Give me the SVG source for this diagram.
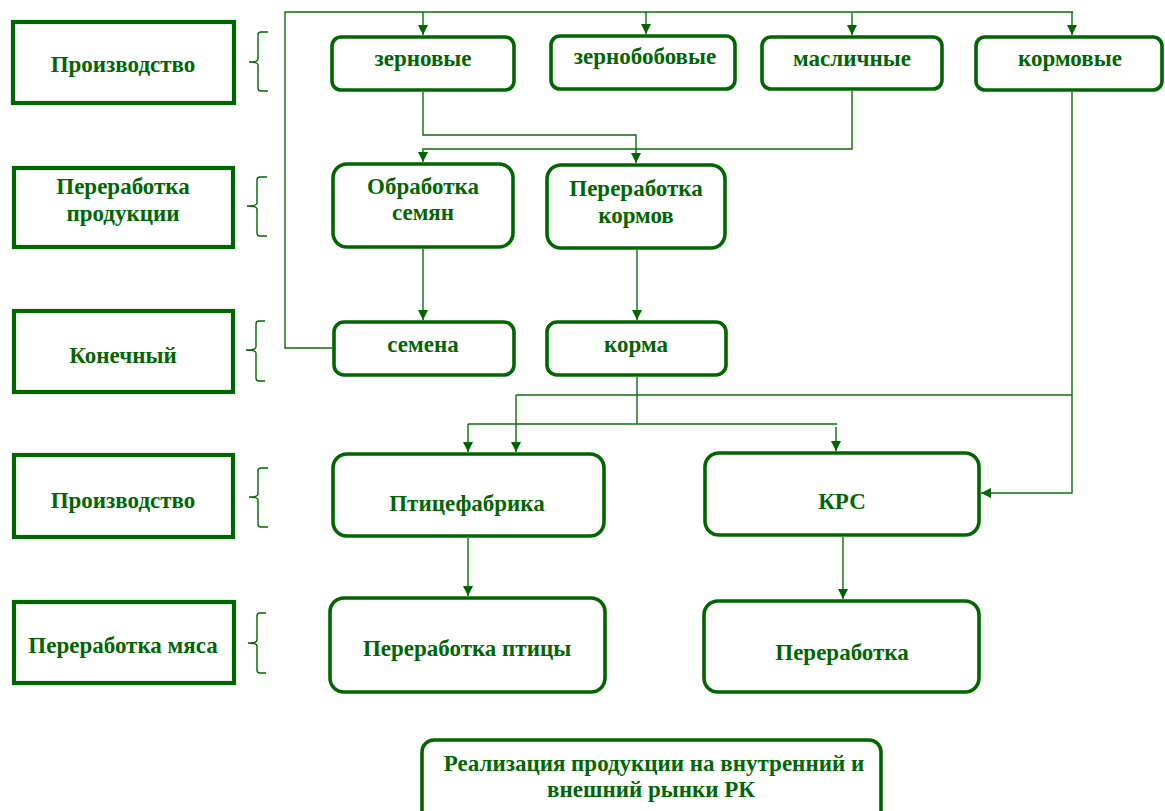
<svg xmlns="http://www.w3.org/2000/svg" width="1165" height="811" viewBox="0 0 1165 811">
<defs>
<style>
.lbox{fill:#fff;stroke:#006600;stroke-width:4.2}
.nbox{fill:#fff;stroke:#006600;stroke-width:3.6}
.t{font-family:"Liberation Serif","Times New Roman",serif;font-weight:bold;font-size:23px;fill:#006600;text-anchor:middle}
.c{fill:none;stroke:#0b6e0b;stroke-width:1.4}
.br{fill:none;stroke:#006600;stroke-width:1.4}
</style>
<marker id="ah" viewBox="0 0 10 10" refX="10" refY="5" markerWidth="10" markerHeight="10" markerUnits="userSpaceOnUse" orient="auto">
<path d="M0,0 L10,5 L0,10 z" fill="#006600"/>
</marker>
</defs>
<rect width="1165" height="811" fill="#fff"/>

<g id="level-labels">
<g id="lvl1"><rect class="lbox" x="13" y="22" width="221" height="81"/><text class="t" x="123" y="72">Производство</text></g>
<g id="lvl2"><rect class="lbox" x="14" y="168" width="219" height="79"/><text class="t" x="123" y="194">Переработка</text><text class="t" x="123" y="221">продукции</text></g>
<g id="lvl3"><rect class="lbox" x="14" y="311" width="219" height="81"/><text class="t" x="123" y="363">Конечный</text></g>
<g id="lvl4"><rect class="lbox" x="14" y="455" width="219" height="82"/><text class="t" x="123" y="508">Производство</text></g>
<g id="lvl5"><rect class="lbox" x="14" y="602" width="220" height="81"/><text class="t" x="123" y="653">Переработка мяса</text></g>
</g>

<g id="brackets">
<path class="br" d="M268,32 H261 Q258,32 258,35 V59 Q258,62 249,62 Q258,62 258,65 V88 Q258,91 261,91 H268"/>
<path class="br" d="M267,177 H260 Q257,177 257,180 V203 Q257,206 247,206 Q257,206 257,209 V233 Q257,236 260,236 H267"/>
<path class="br" d="M265,321 H259 Q256,321 256,324 V347 Q256,350 246,350 Q256,350 256,353 V378 Q256,381 259,381 H265"/>
<path class="br" d="M268,468 H261 Q258,468 258,471 V494 Q258,497 249,497 Q258,497 258,500 V524 Q258,527 261,527 H268"/>
<path class="br" d="M266,613 H260 Q257,613 257,616 V640 Q257,643 248,643 Q257,643 257,646 V670 Q257,673 260,673 H266"/>
</g>

<g id="connectors">
<path class="c" d="M332,348 H285 V12 H1073"/>
<path class="c" d="M423,12 V35" marker-end="url(#ah)"/>
<path class="c" d="M646,12 V34" marker-end="url(#ah)"/>
<path class="c" d="M852,13 V35" marker-end="url(#ah)"/>
<path class="c" d="M1072,12 V35" marker-end="url(#ah)"/>
<path class="c" d="M423,92 V135 H636 V163" marker-end="url(#ah)"/>
<path class="c" d="M852,91 V149 H423 V162" marker-end="url(#ah)"/>
<path class="c" d="M423,249 V320" marker-end="url(#ah)"/>
<path class="c" d="M637,250 V320" marker-end="url(#ah)"/>
<path class="c" d="M637,377 V424"/>
<path class="c" d="M468,424 H837"/>
<path class="c" d="M468,424 V452" marker-end="url(#ah)"/>
<path class="c" d="M836,427 V451" marker-end="url(#ah)"/>
<path class="c" d="M516,395 H1072"/>
<path class="c" d="M516,395 V452" marker-end="url(#ah)"/>
<path class="c" d="M1072,92 V493 H981" marker-end="url(#ah)"/>
<path class="c" d="M468,538 V596" marker-end="url(#ah)"/>
<path class="c" d="M843,537 V599" marker-end="url(#ah)"/>
</g>

<g id="n-zernovye"><rect class="nbox" x="332" y="37" width="182" height="53" rx="9"/><text class="t" x="423" y="66">зерновые</text></g>
<g id="n-zernobobovye"><rect class="nbox" x="551" y="36" width="184" height="53" rx="9"/><text class="t" x="645" y="64">зернобобовые</text></g>
<g id="n-maslichnye"><rect class="nbox" x="762" y="37" width="180" height="52" rx="9"/><text class="t" x="852" y="66">масличные</text></g>
<g id="n-kormovye"><rect class="nbox" x="976" y="37" width="186" height="53" rx="9"/><text class="t" x="1070" y="66">кормовые</text></g>

<g id="n-obrabotka"><rect class="nbox" x="333" y="164" width="180" height="83" rx="14"/><text class="t" x="423" y="194">Обработка</text><text class="t" x="423" y="220">семян</text></g>
<g id="n-pererabotka-kormov"><rect class="nbox" x="547" y="165" width="178" height="83" rx="14"/><text class="t" x="636" y="196">Переработка</text><text class="t" x="636" y="223">кормов</text></g>

<g id="n-semena"><rect class="nbox" x="334" y="322" width="180" height="53" rx="10"/><text class="t" x="423" y="352">семена</text></g>
<g id="n-korma"><rect class="nbox" x="547" y="322" width="179" height="53" rx="10"/><text class="t" x="636" y="352">корма</text></g>

<g id="n-ptitsefabrika"><rect class="nbox" x="333" y="454" width="271" height="82" rx="14"/><text class="t" x="467" y="511">Птицефабрика</text></g>
<g id="n-krs"><rect class="nbox" x="705" y="453" width="274" height="82" rx="14"/><text class="t" x="842" y="509">КРС</text></g>

<g id="n-pererabotka-ptitsy"><rect class="nbox" x="330" y="598" width="275" height="94" rx="14"/><text class="t" x="467" y="656">Переработка птицы</text></g>
<g id="n-pererabotka"><rect class="nbox" x="704" y="601" width="275" height="91" rx="14"/><text class="t" x="842" y="660">Переработка</text></g>

<g id="n-realizatsiya"><rect class="nbox" x="422" y="740" width="459" height="84" rx="12"/><text class="t" x="654" y="771">Реализация продукции на внутренний и</text><text class="t" x="651" y="797">внешний рынки РК</text></g>
</svg>
